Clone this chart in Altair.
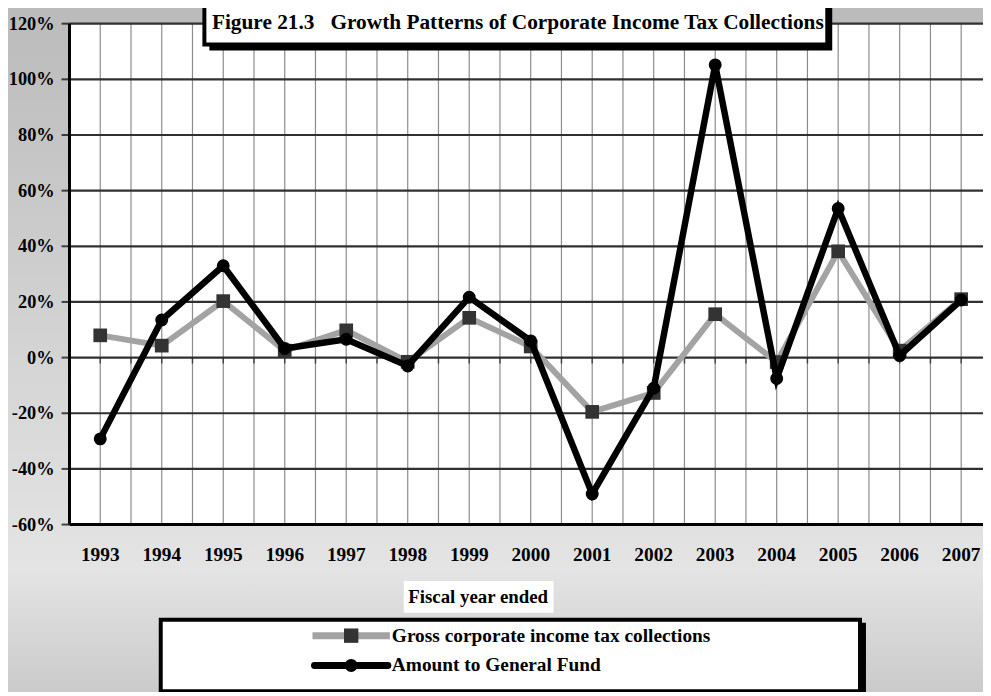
import altair as alt
import pandas as pd

# ---------------- data ----------------
years = list(range(1993, 2008))
gross = [8.0, 4.3, 20.3, 2.5, 9.8, -1.5, 14.3, 4.0, -19.5, -12.7, 15.6, -1.6, 38.2, 2.5, 21.0]
fund = [-29.2, 13.5, 33.0, 3.3, 6.6, -3.0, 21.7, 6.0, -49.0, -11.0, 105.2, -7.5, 53.6, 0.7, 20.7]
series_names = ["Gross corporate income tax collections", "Amount to General Fund"]
title_text = "Figure 21.3\u00a0\u00a0\u00a0Growth Patterns of Corporate Income Tax Collections"
x_title = "Fiscal year ended"
y_ticks = [-60, -40, -20, 0, 20, 40, 60, 80, 100, 120]
y_labels = [f"{v}%" for v in y_ticks]
x_labels = [str(y) for y in years]
h_grid = [-40, -20, 0, 20, 40, 60, 80, 100, 120]
v_grid = [1993 + 0.5 * i for i in range(29)]

# ---------------- layout ----------------
W, H = 921, 505
PX_PER_YEAR = 62
x_dom = [1992.5, 1992.5 + W / PX_PER_YEAR]
y_dom = [-60, 120]
FONT = "Liberation Serif"

df = pd.DataFrame({"year": years, "gross": gross, "fund": fund})
xs = alt.Scale(domain=x_dom, nice=False, zero=False)
ys = alt.Scale(domain=y_dom, nice=False, zero=False)
one = pd.DataFrame({"k": [0]})


def X(f):
    return alt.X(f, type="quantitative", scale=xs, axis=None)


def Y(f):
    return alt.Y(f, type="quantitative", scale=ys, axis=None)


bg = alt.Chart(one).mark_rect(
    fill=alt.LinearGradient(
        gradient="linear", x1=0, y1=0, x2=0, y2=1,
        stops=[alt.GradientStop(color="#bababa", offset=0),
               alt.GradientStop(color="#e4e4e4", offset=0.8),
               alt.GradientStop(color="#c6c6c6", offset=1)]),
).encode(x=alt.value(-70), x2=alt.value(W + 20), y=alt.value(-25), y2=alt.value(H + 190))

plot_bg = alt.Chart(one).mark_rect(fill="white").encode(
    x=alt.value(0), x2=alt.value(W), y=alt.value(0), y2=alt.value(H))

vgrid = alt.Chart(pd.DataFrame({"year": v_grid})).mark_rule(color="#8c8c8c", strokeWidth=1.2).encode(
    x=X("year"))
hgrid = alt.Chart(pd.DataFrame({"v": h_grid})).mark_rule(color="#303030", strokeWidth=2.2).encode(
    y=Y("v"))
zero_ticks = alt.Chart(pd.DataFrame({"year": v_grid, "v": [0] * len(v_grid)})).mark_tick(
    orient="vertical", size=6, thickness=1.5, color="#202020", yOffset=3).encode(
    x=X("year"), y=Y("v"))

# axes drawn from the scales
left_dom = alt.Chart(pd.DataFrame({"year": [x_dom[0]]})).mark_rule(color="black", strokeWidth=3).encode(
    x=X("year"))
bottom_dom = alt.Chart(pd.DataFrame({"v": [y_dom[0]]})).mark_rule(color="black", strokeWidth=3).encode(
    y=Y("v"))
y_tick_marks = alt.Chart(pd.DataFrame({"v": y_ticks})).mark_tick(
    orient="horizontal", size=8, thickness=2, color="black", xOffset=-4).encode(
    x=alt.value(0), y=Y("v"))
y_lab = alt.Chart(pd.DataFrame({"v": y_ticks, "t": y_labels})).mark_text(
    font=FONT, fontSize=18.5, fontWeight="bold", color="black", align="right", baseline="middle").encode(
    x=alt.value(-15), y=Y("v"), text="t:N")
x_lab = alt.Chart(pd.DataFrame({"year": years, "t": x_labels})).mark_text(
    font=FONT, fontSize=19.5, fontWeight="bold", color="black", align="center", baseline="middle").encode(
    x=X("year"), y=alt.value(H + 31), text="t:N")

gross_line = alt.Chart(df).mark_line(color="#a3a3a3", strokeWidth=6).encode(x=X("year"), y=Y("gross"))
gross_pts = alt.Chart(df).mark_point(shape="square", filled=True, size=190, color="#333333", opacity=1).encode(
    x=X("year"), y=Y("gross"))
fund_line = alt.Chart(df).mark_line(color="black", strokeWidth=6.5).encode(x=X("year"), y=Y("fund"))
fund_pts = alt.Chart(df).mark_point(shape="circle", filled=True, size=170, color="black", opacity=1).encode(
    x=X("year"), y=Y("fund"))

# title box
t_shadow = alt.Chart(one).mark_rect(fill="black").encode(
    x=alt.value(141), x2=alt.value(769), y=alt.value(-16), y2=alt.value(27))
t_box = alt.Chart(one).mark_rect(fill="white", stroke="black", strokeWidth=4).encode(
    x=alt.value(136), x2=alt.value(764), y=alt.value(-27), y2=alt.value(21))
t_text = alt.Chart(pd.DataFrame({"t": [title_text]})).mark_text(
    font=FONT, fontSize=21.5, fontWeight="bold", color="black", align="center", baseline="middle").encode(
    x=alt.value(452), y=alt.value(-1), text="t:N")

# x title
xt_box = alt.Chart(one).mark_rect(fill="white").encode(
    x=alt.value(337), x2=alt.value(488), y=alt.value(562), y2=alt.value(594))
xt_text = alt.Chart(pd.DataFrame({"t": [x_title]})).mark_text(
    font=FONT, fontSize=19, fontWeight="bold", color="black", align="center", baseline="middle").encode(
    x=alt.value(412), y=alt.value(578), text="t:N")

# legend
l_shadow = alt.Chart(one).mark_rect(fill="black").encode(
    x=alt.value(96), x2=alt.value(803), y=alt.value(604), y2=alt.value(690))
l_box = alt.Chart(one).mark_rect(fill="white", stroke="black", strokeWidth=4).encode(
    x=alt.value(92), x2=alt.value(797), y=alt.value(601), y2=alt.value(673))
ROW1, ROW2 = 617, 647
l_line1 = alt.Chart(one).mark_rule(color="#a3a3a3", strokeWidth=7).encode(
    x=alt.value(245), x2=alt.value(323), y=alt.value(ROW1))
l_pt1 = alt.Chart(one).mark_point(shape="square", filled=True, size=210, color="#333333", opacity=1).encode(
    x=alt.value(284), y=alt.value(ROW1))
l_line2 = alt.Chart(one).mark_rule(color="black", strokeWidth=7, strokeCap="round").encode(
    x=alt.value(247), x2=alt.value(321), y=alt.value(ROW2))
l_pt2 = alt.Chart(one).mark_point(shape="circle", filled=True, size=170, color="black", opacity=1).encode(
    x=alt.value(284), y=alt.value(ROW2))
l_txt1 = alt.Chart(pd.DataFrame({"t": [series_names[0]]})).mark_text(
    font=FONT, fontSize=19.5, fontWeight="bold", color="black", align="left", baseline="middle").encode(
    x=alt.value(325), y=alt.value(ROW1), text="t:N")
l_txt2 = alt.Chart(pd.DataFrame({"t": [series_names[1]]})).mark_text(
    font=FONT, fontSize=19.5, fontWeight="bold", color="black", align="left", baseline="middle").encode(
    x=alt.value(325), y=alt.value(ROW2), text="t:N")

chart = alt.layer(
    bg, plot_bg, vgrid, hgrid, zero_ticks,
    gross_line, gross_pts, fund_line, fund_pts,
    left_dom, bottom_dom, y_tick_marks, y_lab, x_lab,
    t_shadow, t_box, t_text, xt_box, xt_text,
    l_shadow, l_box, l_line1, l_pt1, l_line2, l_pt2, l_txt1, l_txt2,
).properties(
    width=W, height=H,
    autosize=alt.AutoSizeParams(type="none"),
    padding={"left": 62, "top": 13, "right": 0, "bottom": 166},
    background="#c4c4c4",
).configure_view(stroke=None)

chart.save("out.html", embed_options={"renderer": "svg", "actions": False})
